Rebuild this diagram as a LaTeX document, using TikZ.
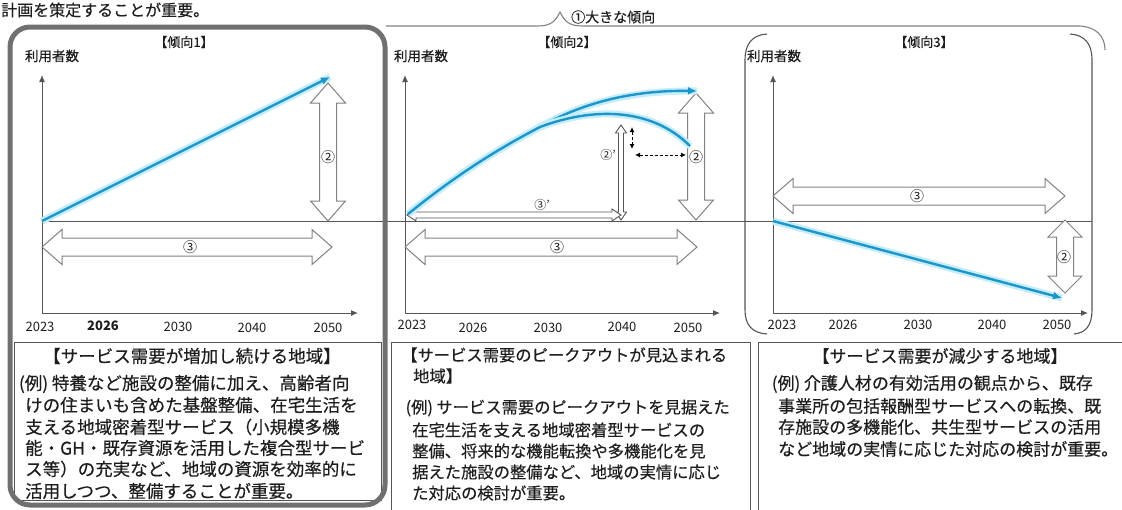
\documentclass[tikz,border=0pt]{standalone}
\usepackage{fontspec}
\setmainfont{Noto Sans CJK JP}
\newfontfamily\jpheavy{Noto Sans CJK JP}[FakeBold=0.4]
\usetikzlibrary{arrows.meta}

\definecolor{trendblue}{RGB}{28,150,200}
\definecolor{glowblue}{RGB}{196,236,250}
\definecolor{framegray}{RGB}{112,112,112}
\definecolor{linegray}{RGB}{85,85,85}
\definecolor{arrowgray}{RGB}{130,130,130}
\definecolor{textblack}{RGB}{30,30,30}

\tikzset{
  axisline/.style={draw=linegray, line width=1pt, -{Latex[length=7pt,width=6pt]}},
  zeroline/.style={draw=linegray, line width=0.9pt},
  trend/.style={draw=trendblue, line width=2.4pt, -{Latex[length=9pt,width=8pt]},
    preaction={draw=glowblue, line width=7pt, -}},
  trendcut/.style={draw=trendblue, line width=2.4pt, preaction={draw=glowblue, line width=7pt}},
  block/.style={draw=arrowgray, fill=white, line width=1pt},
  thinblock/.style={draw=linegray, fill=white, line width=0.9pt},
  dashedarrow/.style={draw=black, line width=1pt, dash pattern=on 3pt off 2pt, {Latex[length=5pt,width=5pt]}-{Latex[length=5pt,width=5pt]}},
  bracecurve/.style={draw=arrowgray, line width=1.1pt},
  bracketline/.style={draw=linegray, line width=1.1pt},
  highlight/.style={draw=framegray, line width=5pt, rounded corners=20pt},
  boxline/.style={draw=linegray, line width=0.9pt},
  year/.style={font=\fontsize{13}{13}\selectfont, text=textblack, inner sep=0pt},
  paneltitle/.style={font=\jpheavy\fontsize{13}{13}\selectfont, text=textblack, inner sep=0pt},
  yname/.style={font=\jpheavy\fontsize{13.5}{13.5}\selectfont, text=textblack, inner sep=0pt},
  circnum/.style={font=\fontsize{14}{14}\selectfont, text=textblack, inner sep=0pt},
  smallnum/.style={font=\fontsize{12}{12}\selectfont, text=textblack, inner sep=0pt},
  bodyline/.style={font=\jpheavy\fontsize{17.5}{17.5}\selectfont, text=textblack, inner sep=0pt, anchor=west},
  headtext/.style={font=\jpheavy\fontsize{16}{16}\selectfont, text=textblack, inner sep=0pt},
}

% "(例)" with narrow brackets
\newcommand{\rei}{\makebox[0.55em][r]{(}例\makebox[0.55em][l]{)}}
% vertical hollow double arrow: [style] x, top, bottom, shaft half, head half, head length
\newcommand{\vblock}[7][block]{%
  \draw[#1] (#2,#3) -- (#2+#6,#3+#7) -- (#2+#5,#3+#7) -- (#2+#5,#4-#7) -- (#2+#6,#4-#7) -- (#2,#4)
    -- (#2-#6,#4-#7) -- (#2-#5,#4-#7) -- (#2-#5,#3+#7) -- (#2-#6,#3+#7) -- cycle;}
% horizontal hollow double arrow: [style] left, right, y, shaft half, head half, head length
\newcommand{\hblock}[7][block]{%
  \draw[#1] (#2,#4) -- (#2+#7,#4-#6) -- (#2+#7,#4-#5) -- (#3-#7,#4-#5) -- (#3-#7,#4-#6) -- (#3,#4)
    -- (#3-#7,#4+#6) -- (#3-#7,#4+#5) -- (#2+#7,#4+#5) -- (#2+#7,#4+#6) -- cycle;}

\begin{document}
\begin{tikzpicture}[x=1pt,y=-1pt]
    \useasboundingbox (0,0) rectangle (1122,509);

    % Heading and brace
    \node[headtext, anchor=west] (plan) at (1,10) {計画を策定することが重要。};
    \draw[bracecurve] (386,26) -- (538,26) .. controls (552,26) and (556,20) .. (560,12)
      .. controls (564,20) and (568,26) .. (582,26) -- (1080,26) .. controls (1096,27) and (1105,36) .. (1105,50);
    \node[paneltitle, anchor=west, font=\jpheavy\fontsize{14}{14}\selectfont] (bigtrend) at (571,17) {①大きな傾向};

    % Brackets round panel 3
    \draw[bracketline] (767,34) .. controls (752,35) and (745,44) .. (745,60) -- (745,310)
      .. controls (745,325) and (752,333) .. (767,334);
    \draw[bracketline] (1070,34) .. controls (1085,35) and (1092,44) .. (1092,60) -- (1092,310)
      .. controls (1092,325) and (1086,333) .. (1074,334);

    % Zero line across all charts
    \coordinate (zl) at (42,221);
    \coordinate (zr) at (1092,221);
    \draw[zeroline] (zl) -- (zr);

    % Axes
    \foreach \c/\ox/\xe in {1/42/358, 2/405/720, 3/773/1088} {
      \coordinate (o\c) at (\ox,313);
      \coordinate (yt\c) at (\ox,75);
      \coordinate (xe\c) at (\xe,313);
      \draw[axisline] (o\c) -- (yt\c);
      \draw[axisline] (o\c) -- (xe\c);
    }

    % Panel titles and axis names
    \node[paneltitle] (title1) at (184,42) {【傾向1】};
    \node[paneltitle] (title2) at (567,42) {【傾向2】};
    \node[paneltitle] (title3) at (924,42) {【傾向3】};
    \node[yname] (users1) at (52,56) {利用者数};
    \node[yname] (users2) at (421,56) {利用者数};
    \node[yname] (users3) at (774,56) {利用者数};

    % Years
    \foreach \c/\x/\y/\yr in {1/40/327/2023, 1/178/327/2030, 1/252/328/2040, 1/328/328/2050,
      2/412/325/2023, 2/473/328/2026, 2/548/328/2030, 2/622/327/2040, 2/688/328/2050,
      3/782/325/2023, 3/843/325/2026, 3/918/325/2030, 3/992/325/2040, 3/1057/325/2050} {
      \node[year] (yr\c-\yr) at (\x,\y) {\yr};
    }
    \node[year, font=\fontsize{13}{13}\selectfont\bfseries] (yr1-2026) at (103,326) {2026};

    % Chart 1
    \vblock{328}{83}{221}{8.5}{17.5}{20}
    \hblock{42}{332}{247}{9}{17.5}{20}
    \node[circnum] (n1-2) at (328,157) {②};
    \node[circnum] (n1-3) at (190,247) {③};
    \coordinate (s1) at (42,221);
    \coordinate (e1) at (330,77);
    \draw[trend] (s1) -- (e1);

    % Chart 2
    \vblock{696}{93}{220}{8.5}{17.5}{20}
    \hblock{405}{697}{247}{9}{17.5}{20}
    \vblock[thinblock]{621}{125}{220}{2.5}{5.5}{8}
    \hblock[thinblock]{407}{621}{215}{3}{6}{9}
    \node[circnum] (n2-2) at (696,157) {②};
    \node[circnum] (n2-3) at (557,247) {③};
    \node[smallnum] (n2-2p) at (608,155) {②'};
    \node[smallnum] (n2-3p) at (542,205) {③'};
    \coordinate (s2) at (408,214);
    \coordinate (e2) at (697,91);
    \coordinate (f2) at (690,146);
    \draw[trend] (s2) .. controls (460,172) and (500,148) .. (540,127)
      .. controls (580,104) and (630,90) .. (e2);
    \draw[trendcut] (s2) .. controls (460,172) and (500,148) .. (540,127)
      .. controls (590,108) and (650,106) .. (f2);
    \coordinate (dv1) at (632,127);
    \coordinate (dv2) at (632,149);
    \coordinate (dh1) at (635,155);
    \coordinate (dh2) at (686,155);
    \draw[dashedarrow] (dv1) -- (dv2);
    \draw[dashedarrow] (dh1) -- (dh2);

    % Chart 3
    \hblock{773}{1065}{196}{9}{17.5}{20}
    \vblock{1065}{220}{293}{8.5}{17}{17}
    \node[circnum] (n3-3) at (917,196) {③};
    \node[circnum] (n3-2) at (1064,257) {②};
    \coordinate (s3) at (773,221);
    \coordinate (e3) at (1062,298);
    \draw[trend] (s3) -- (e3);

    % Text boxes
    \draw[boxline] (14,342) rectangle (381,500);
    \draw[boxline] (391,342) rectangle (750,515);
    \draw[boxline] (758,342) rectangle (1130,515);

    \node[bodyline, anchor=center] (head1) at (192,356) {【サービス需要が増加し続ける地域】};
    \foreach \n/\x/\y/\t in {1/15/384/{\rei 特養など施設の整備に加え、高齢者向},
      2/25/405/{けの住まいも含めた基盤整備、在宅生活を},
      3/25/427/{支える地域密着型サービス（小規模多機},
      4/25/448/{能・GH・既存資源を活用した複合型サービ},
      5/25/469/{ス等）の充実など、地域の資源を効率的に},
      6/25/491/{活用しつつ、整備することが重要。}} {
      \node[bodyline] (body1-\n) at (\x,\y) {\t};
    }

    \begin{scope}[bodyline/.append style={font=\jpheavy\fontsize{16.3}{16.3}\selectfont}]
    \node[bodyline] (head2a) at (401,355) {【サービス需要のピークアウトが見込まれる};
    \node[bodyline] (head2b) at (413,376) {地域】};
    \foreach \n/\x/\y/\t in {1/402/408/{\rei サービス需要のピークアウトを見据えた},
      2/412/430/{在宅生活を支える地域密着型サービスの},
      3/412/451/{整備、将来的な機能転換や多機能化を見},
      4/412/472/{据えた施設の整備など、地域の実情に応じ},
      5/412/493/{た対応の検討が重要。}} {
      \node[bodyline] (body2-\n) at (\x,\y) {\t};
    }
    \end{scope}

    \begin{scope}[bodyline/.append style={font=\jpheavy\fontsize{17}{17}\selectfont}]
    \node[bodyline, anchor=center] (head3) at (940,356) {【サービス需要が減少する地域】};
    \foreach \n/\x/\y/\t in {1/768/384/{\rei 介護人材の有効活用の観点から、既存},
      2/778/406/{事業所の包括報酬型サービスへの転換、既},
      3/778/427/{存施設の多機能化、共生型サービスの活用},
      4/778/449/{など地域の実情に応じた対応の検討が重要。}} {
      \node[bodyline] (body3-\n) at (\x,\y) {\t};
    }
    \end{scope}

    % Highlight frame round panel 1
    \draw[highlight] (10,27) rectangle (385,505);

\end{tikzpicture}
\end{document}
